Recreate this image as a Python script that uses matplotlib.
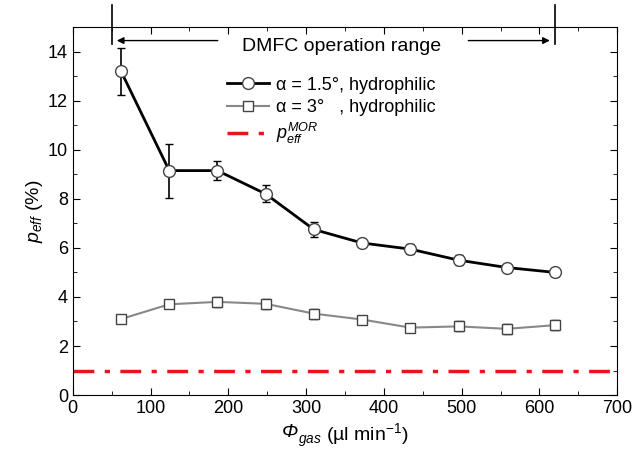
import matplotlib.pyplot as plt
from matplotlib.ticker import MultipleLocator
from matplotlib.lines import Line2D

plt.rcParams['font.family'] = ['Liberation Sans', 'DejaVu Sans']
plt.rcParams['mathtext.fontset'] = 'custom'
plt.rcParams['mathtext.rm'] = 'Liberation Sans'
plt.rcParams['mathtext.it'] = 'Liberation Sans:italic'

# data
phi_gas = [62, 124, 186, 248, 310, 372, 434, 496, 558, 620]
p_15 = [13.2, 9.15, 9.15, 8.2, 6.75, 6.2, 5.95, 5.5, 5.2, 5.0]
err_15 = [0.95, 1.1, 0.4, 0.35, 0.3, 0.15, 0.2, 0.2, 0.15, 0.15]
p_3 = [3.1, 3.7, 3.8, 3.72, 3.32, 3.08, 2.75, 2.8, 2.7, 2.85]
err_3 = [0.12, 0.15, 0.2, 0.2, 0.2, 0.15, 0.1, 0.2, 0.2, 0.2]
p_mor = 1.0
range_lo, range_hi = 50, 620

fig = plt.figure(figsize=(6.33, 4.67), dpi=100)
ax = fig.add_axes([0.115, 0.154, 0.86, 0.788])

ax.errorbar(phi_gas, p_15, yerr=err_15, color='black', lw=2, marker='o',
            ms=8.5, mfc='white', mec='#444444', capsize=3, elinewidth=1.2)
ax.errorbar(phi_gas, p_3, yerr=err_3, color='#888888', lw=1.5, marker='s',
            ms=7, mfc='white', mec='#444444', capsize=3, elinewidth=1.2,
            ecolor='black')
mor_ls = (0, (6, 3, 1.5, 3))
ax.axhline(p_mor, color='#e8161b', lw=2.5, ls=mor_ls)

ax.set_xlim(0, 700)
ax.set_ylim(0, 15)
ax.xaxis.set_major_locator(MultipleLocator(100))
ax.xaxis.set_minor_locator(MultipleLocator(50))
ax.yaxis.set_minor_locator(MultipleLocator(1))
ax.set_yticks(range(0, 15, 2))
ax.tick_params(which='both', direction='in', top=True, right=True, labelsize=13)
ax.tick_params(which='major', length=5)
ax.tick_params(which='minor', length=3)

# italic Phi is drawn separately, mathtext keeps Greek capitals upright
ax.set_xlabel(r'${}_{gas}$ (µl min$^{-1}$)', fontsize=14)
ax.xaxis.set_label_coords(0.515, -0.072)
ax.annotate('Φ', xy=(0, 0.6), xycoords=ax.xaxis.label, ha='right', va='center',
            fontsize=14, fontstyle='italic')
ax.set_ylabel(r'$p_{eff}$ (%)', fontsize=14, labelpad=2)

# operation range markers above the axes
for xr in (range_lo, range_hi):
    ax.plot([xr, xr], [14.3, 15.9], color='black', lw=1.2, clip_on=False)
ax.annotate('', xy=(range_lo + 3, 14.45), xytext=(190, 14.45),
            arrowprops=dict(arrowstyle='-|>', color='black', lw=1))
ax.annotate('', xy=(range_hi - 3, 14.45), xytext=(505, 14.45),
            arrowprops=dict(arrowstyle='-|>', color='black', lw=1))
ax.text(345, 14.22, 'DMFC operation range', ha='center', va='center', fontsize=14)

handles = [
    Line2D([], [], color='black', lw=2, marker='o', ms=8.5, mfc='white', mec='#444444'),
    Line2D([], [], color='#888888', lw=1.5, marker='s', ms=7, mfc='white', mec='#444444'),
    Line2D([], [], color='#e8161b', lw=2.5, ls=mor_ls),
]
labels = ['α = 1.5°, hydrophilic', 'α = 3°   , hydrophilic', r'$p_{eff}^{MOR}$']
ax.legend(handles, labels, loc='upper left', bbox_to_anchor=(0.26, 0.9),
          frameon=False, fontsize=13, handlelength=2.3, handletextpad=0.4,
          labelspacing=0.3, borderpad=0.2)

fig.savefig('out.png', dpi=100)
